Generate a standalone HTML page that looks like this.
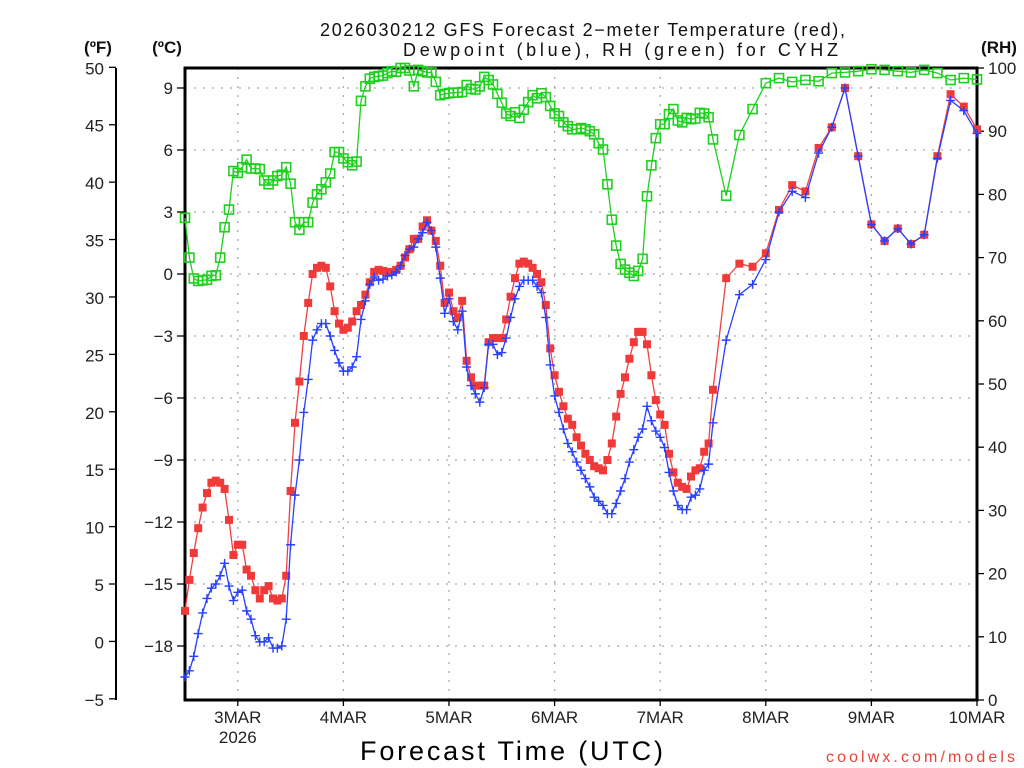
<!DOCTYPE html>
<html><head><meta charset="utf-8"><style>
html,body{margin:0;padding:0;background:#fff;}
svg{display:block;font-family:"Liberation Sans",sans-serif;}
</style></head><body>
<svg id="chart" width="1024" height="768" viewBox="0 0 1024 768" xmlns="http://www.w3.org/2000/svg">
<rect width="1024" height="768" fill="#fff"/>
<g id="grid"></g>
<g id="axes"></g>
<g id="series"></g>
<text x="320" y="36" font-size="18" textLength="525" lengthAdjust="spacing" fill="#111">2026030212 GFS Forecast 2−meter Temperature (red),</text>
<text x="403" y="56" font-size="18" textLength="435" lengthAdjust="spacing" fill="#111">Dewpoint (blue), RH (green) for CYHZ</text>
<text x="98" y="53" font-size="17" font-weight="bold" text-anchor="middle" fill="#111">(ºF)</text>
<text x="167" y="53" font-size="17" font-weight="bold" text-anchor="middle" fill="#111">(ºC)</text>
<text x="999" y="53" font-size="17" font-weight="bold" text-anchor="middle" fill="#111">(RH)</text>
<text x="360" y="760" font-size="27" textLength="303" lengthAdjust="spacing" fill="#000">Forecast Time (UTC)</text>
<text x="826" y="762" font-size="16" textLength="189" lengthAdjust="spacing" fill="#e8413a">coolwx.com/models</text>
</svg>
<script>
const hours=[0,1,2,3,4,5,6,7,8,9,10,11,12,13,14,15,16,17,18,19,20,21,22,23,24,25,26,27,28,29,30,31,32,33,34,35,36,37,38,39,40,41,42,43,44,45,46,47,48,49,50,51,52,53,54,55,56,57,58,59,60,61,62,63,64,65,66,67,68,69,70,71,72,73,74,75,76,77,78,79,80,81,82,83,84,85,86,87,88,89,90,91,92,93,94,95,96,97,98,99,100,101,102,103,104,105,106,107,108,109,110,111,112,113,114,115,116,117,118,119,120,123,126,129,132,135,138,141,144,147,150,153,156,159,162,165,168,171,174,177,180];
const tempC=[-16.3,-14.8,-13.5,-12.3,-11.3,-10.6,-10.1,-10.0,-10.1,-10.4,-11.9,-13.6,-13.1,-13.1,-14.3,-14.6,-15.3,-15.7,-15.3,-15.1,-15.7,-15.8,-15.7,-14.6,-10.5,-7.2,-5.2,-3.0,-1.4,0.0,0.3,0.4,0.3,-0.6,-1.8,-2.4,-2.7,-2.6,-2.3,-1.8,-1.5,-1.0,-0.4,0.1,0.2,0.15,0.1,0.1,0.2,0.4,0.8,1.2,1.7,1.7,2.3,2.6,2.1,1.6,0.4,-1.4,-0.9,-1.8,-2.1,-1.3,-4.2,-5.0,-5.4,-5.4,-5.4,-3.3,-3.1,-3.1,-3.1,-2.2,-1.1,-0.2,0.5,0.6,0.5,0.3,0.0,-0.4,-1.5,-3.6,-4.9,-5.7,-6.4,-7.0,-7.3,-7.9,-8.3,-8.7,-9.0,-9.3,-9.4,-9.5,-9.0,-8.2,-6.9,-5.8,-5.0,-4.1,-3.3,-2.8,-2.8,-3.4,-4.9,-6.1,-6.8,-7.3,-8.7,-9.6,-10.1,-10.3,-10.4,-9.8,-9.5,-9.4,-8.6,-8.2,-5.6,-0.2,0.5,0.35,1.0,3.1,4.3,4.0,6.1,7.1,9.0,5.7,2.4,1.6,2.2,1.45,1.9,5.7,8.7,8.1,7.0];
const dewC=[-19.5,-19.2,-18.5,-17.4,-16.4,-15.7,-15.2,-15.0,-14.6,-14.0,-15.1,-15.8,-15.4,-15.3,-16.3,-16.7,-17.5,-17.8,-17.8,-17.6,-18.1,-18.1,-18.0,-16.7,-13.1,-10.7,-9.0,-6.7,-5.1,-3.2,-2.7,-2.4,-2.4,-3.0,-3.7,-4.3,-4.7,-4.7,-4.5,-4.0,-2.2,-1.3,-0.5,-0.15,-0.3,-0.25,-0.1,-0.05,0.1,0.4,0.9,1.2,1.3,1.7,2.0,2.5,2.1,1.3,-0.2,-1.9,-1.2,-2.3,-2.7,-1.8,-4.5,-5.4,-5.8,-6.2,-5.5,-3.4,-3.4,-3.9,-3.8,-3.1,-2.1,-1.2,-0.6,-0.3,-0.3,-0.3,-0.6,-0.9,-2.1,-4.4,-5.9,-6.7,-7.5,-8.2,-8.6,-9.1,-9.5,-9.9,-10.3,-10.8,-11.0,-11.2,-11.6,-11.6,-11.1,-10.5,-9.9,-9.1,-8.5,-7.9,-7.5,-6.4,-7.1,-7.6,-7.9,-8.4,-9.6,-10.5,-11.2,-11.4,-11.4,-10.8,-10.7,-10.4,-9.5,-9.2,-7.2,-3.2,-1.0,-0.5,0.7,3.0,4.0,3.7,5.85,7.1,9.0,5.7,2.4,1.6,2.2,1.45,1.9,5.6,8.4,7.9,6.8];
const rhPct=[76.3,70,66.7,66.3,66.4,66.5,67.1,67.2,70,74.8,77.6,83.7,83.4,84.3,85.5,84.1,84.1,84,82.2,81.6,82.2,82.9,83.1,84.3,81.7,75.6,74.4,75.6,75.6,78.7,80,80.8,81.9,83.3,86.7,86.7,85.7,85.1,84.6,85.2,94.8,97.1,98.3,98.6,98.7,98.8,99.2,99.5,99.4,100,100,99.6,97.1,99.7,99.5,99.3,99.3,97.8,95.7,95.9,96,96.1,96.1,96.2,97.3,96.7,96.6,97.1,98.6,98.1,97.4,95.9,94.5,92.8,92.4,93,92.1,93.4,94.6,95.7,95.2,96,95.4,94,92.8,92.4,91.4,90.8,90.3,90.3,90.5,90.3,90,89.5,88.1,87.1,81.6,76,71.9,69,68.1,67.6,67.1,67.9,69.8,79.7,84.6,88.9,91.1,91.1,92.7,93.5,91.7,91.4,92.1,91.9,92,92.9,92.8,92.2,88.7,79.8,89.4,93.5,97.6,98.4,97.8,98.1,97.9,99.2,99.3,99.5,99.8,99.7,99.5,99.3,99.7,99.2,98.1,98.4,98.2];
const dayLabels=["3MAR","4MAR","5MAR","6MAR","7MAR","8MAR","9MAR","10MAR"];
const dayHours=[12,36,60,84,108,132,156,180];
const cTicks=[9,6,3,0,-3,-6,-9,-12,-15,-18];
const fTicks=[50,45,40,35,30,25,20,15,10,5,0,-5];
const rhTicks=[100,90,80,70,60,50,40,30,20,10,0];

const NS="http://www.w3.org/2000/svg";
const X0=185,X1=977,Y0=68,Y1=700;
function xH(h){return X0+(h/180)*(X1-X0);}
function yC(c){return 274-c*20.667;}
function yF(f){return yC((f-32)/1.8);}
function yR(r){return Y1-r*6.32;}
function mk(tag,at,parent){const e=document.createElementNS(NS,tag);for(const k in at)e.setAttribute(k,at[k]);parent.appendChild(e);return e;}
const grid=document.getElementById('grid'),axes=document.getElementById('axes'),ser=document.getElementById('series');

cTicks.forEach(c=>{const y=yC(c);
 const g=mk('line',{x1:X0,x2:X1,y1:y,y2:y,stroke:'#aaa','stroke-width':1.3,'stroke-dasharray':'2 7'},grid);
 
 
 mk('line',{x1:X0-8,x2:X0,y1:y,y2:y,stroke:'#000','stroke-width':1.3},axes);
 const t=mk('text',{x:X0-12,y:y+6,'font-size':17,'text-anchor':'end',fill:'#222'},axes);t.textContent=(c<0?'\u2212':'')+Math.abs(c);
 
 
});
dayHours.forEach((h,i)=>{const x=xH(h);
 if(i<dayHours.length-1){const g=mk('line',{x1:x,x2:x,y1:Y0,y2:Y1,stroke:'#aaa','stroke-width':1.3,'stroke-dasharray':'2 7'},grid);
 
 }
 mk('line',{x1:x,x2:x,y1:Y1,y2:Y1+6,stroke:'#000','stroke-width':1.3},axes);
 const t=mk('text',{x:x,y:723,'font-size':17,'text-anchor':'middle',fill:'#222'},axes);t.textContent=dayLabels[i];
 
 
});
const yr=mk('text',{x:xH(12),y:743,'font-size':17,'text-anchor':'middle',fill:'#222'},axes);yr.textContent='2026';


mk('line',{x1:116,x2:116,y1:Y0,y2:Y1,stroke:'#000','stroke-width':2},axes);
fTicks.forEach(f=>{const y=yF(f);
 mk('line',{x1:109,x2:116,y1:y,y2:y,stroke:'#000','stroke-width':1.3},axes);
 const t=mk('text',{x:104,y:y+7,'font-size':17,'text-anchor':'end',fill:'#222'},axes);t.textContent=(f<0?'\u2212':'')+Math.abs(f);
 
 
});
rhTicks.forEach(r=>{const y=yR(r);
 mk('line',{x1:X1,x2:X1+7,y1:y,y2:y,stroke:'#000','stroke-width':1.3},axes);
 const t=mk('text',{x:988,y:y+6,'font-size':17,'text-anchor':'start',fill:'#222'},axes);t.textContent=r;
 
 
});
const fr=mk('rect',{x:X0,y:Y0,width:X1-X0,height:Y1-Y0,fill:'none',stroke:'#000','stroke-width':3},axes);



function line(vals,yf,color,name){
 const pts=hours.map((h,i)=>xH(h).toFixed(1)+','+yf(vals[i]).toFixed(1)).join(' ');
 const p=mk('polyline',{points:pts,fill:'none',stroke:color,'stroke-width':1.3},ser);
 
 
}
line(rhPct,yR,'#1fd01f','rh-line');
hours.forEach((h,i)=>{const x=xH(h),y=yR(rhPct[i]);
 const m=mk('rect',{x:x-4.5,y:y-4.5,width:9,height:9,fill:'none',stroke:'#1fd01f','stroke-width':1.6},ser);
 
 
});
line(tempC,yC,'#f04040','temperature-line');
hours.forEach((h,i)=>{const x=xH(h),y=yC(tempC[i]);
 const m=mk('rect',{x:x-4,y:y-4,width:8,height:8,fill:'#f03a3a'},ser);
 
 
});
line(dewC,yC,'#2840ff','dewpoint-line');
hours.forEach((h,i)=>{const x=xH(h),y=yC(dewC[i]);
 const m=mk('path',{d:`M${x-4.5},${y}H${x+4.5}M${x},${y-4.5}V${y+4.5}`,stroke:'#2840ff','stroke-width':1.4},ser);
 
 
});
</script>
</body></html>
